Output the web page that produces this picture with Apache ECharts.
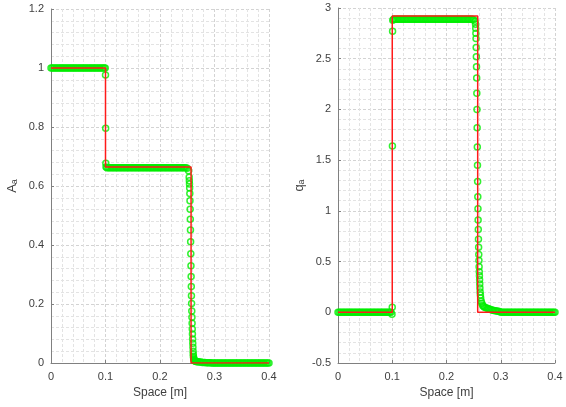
<!DOCTYPE html>
<html>
<head>
<meta charset="utf-8">
<script src="https://cdn.jsdelivr.net/npm/echarts@6/dist/echarts.min.js"></script>
<style>
  html, body { margin: 0; padding: 0; background: #ffffff; }
  #chart { width: 566px; height: 407px; }
</style>
</head>
<body>
<div id="chart"></div>
<script>
// Numerical solution: cell positions [m] with area A_a and discharge q_a
const spaceX = [
  0,0.0025,0.005,0.0075,0.01,0.0125,0.015,0.0175,0.02,0.0225,0.025,0.0275,0.03,0.0325,0.035,0.0375,0.04,0.0425,0.045,0.0475,
  0.05,0.0525,0.055,0.0575,0.06,0.0625,0.065,0.0675,0.07,0.0725,0.075,0.0775,0.08,0.0825,0.085,0.0875,0.09,0.0925,0.095,0.0975,
  0.0995,0.1,0.1003,0.1006,0.1009,
  0.1025,0.105,0.1075,0.11,0.1125,0.115,0.1175,0.12,0.1225,0.125,0.1275,0.13,0.1325,0.135,0.1375,0.14,0.1425,0.145,0.1475,0.15,
  0.1525,0.155,0.1575,0.16,0.1625,0.165,0.1675,0.17,0.1725,0.175,0.1775,0.18,0.1825,0.185,0.1875,0.19,0.1925,0.195,0.1975,0.2,
  0.2025,0.205,0.2075,0.21,0.2125,0.215,0.2175,0.22,0.2225,0.225,0.2275,0.23,0.2325,0.235,0.2375,0.24,0.2425,0.245,0.2475,0.25,0.2525,
  0.2535,0.2538,0.2541,0.2544,0.2547,0.255,0.2553,0.2556,0.2559,0.2562,0.2565,0.2568,0.2571,0.2574,0.2577,0.258,0.2583,0.2586,0.2589,0.2592,
  0.2595,0.2598,0.2601,0.2604,0.2607,0.261,0.2613,0.2616,0.262,0.2625,0.263,0.264,0.265,0.2665,0.268,0.27,
  0.2725,0.275,0.2775,0.28,0.2825,0.285,0.2875,0.29,0.2925,0.295,0.2975,
  0.3,0.3025,0.305,0.3075,0.31,0.3125,0.315,0.3175,0.32,0.3225,0.325,0.3275,0.33,0.3325,0.335,0.3375,0.34,0.3425,0.345,0.3475,
  0.35,0.3525,0.355,0.3575,0.36,0.3625,0.365,0.3675,0.37,0.3725,0.375,0.3775,0.38,0.3825,0.385,0.3875,0.39,0.3925,0.395,0.3975,0.4
];
const areaNumeric = [
  1,1,1,1,1,1,1,1,1,1,1,1,1,1,1,1,1,1,1,1,
  1,1,1,1,1,1,1,1,1,1,1,1,1,1,1,1,1,1,1,1,
  1,0.976,0.796,0.677,0.664,
  0.662,0.662,0.662,0.662,0.662,0.662,0.662,0.662,0.662,0.662,0.662,0.662,0.662,0.662,0.662,0.662,0.662,0.662,0.662,0.662,
  0.662,0.662,0.662,0.662,0.662,0.662,0.662,0.662,0.662,0.662,0.662,0.662,0.662,0.662,0.662,0.662,0.662,0.662,0.662,0.662,
  0.662,0.662,0.662,0.662,0.662,0.662,0.662,0.662,0.662,0.662,0.662,0.662,0.662,0.662,0.662,0.662,0.662,0.662,0.662,0.66,0.652,
  0.630,0.618,0.607,0.593,0.575,0.550,0.521,0.487,0.451,0.411,0.370,0.330,0.293,0.259,0.228,0.202,0.176,0.155,0.135,0.115,
  0.098,0.081,0.067,0.053,0.040,0.030,0.023,0.018,0.014,0.011,0.009,0.007,0.006,0.005,0.004,0.004,
  0.003,0.003,0.002,0.002,0.002,0.001,0.001,0.001,0.001,0,0,
  0,0,0,0,0,0,0,0,0,0,0,0,0,0,0,0,0,0,0,0,
  0,0,0,0,0,0,0,0,0,0,0,0,0,0,0,0,0,0,0,0,0
];
const flowNumeric = [
  0,0,0,0,0,0,0,0,0,0,0,0,0,0,0,0,0,0,0,0,
  0,0,0,0,0,0,0,0,0,0,0,0,0,0,0,0,0,0,0,0,
  -0.02,0.05,1.64,2.77,2.88,
  2.89,2.89,2.89,2.89,2.89,2.89,2.89,2.89,2.89,2.89,2.89,2.89,2.89,2.89,2.89,2.89,2.89,2.89,2.89,2.89,
  2.89,2.89,2.89,2.89,2.89,2.89,2.89,2.89,2.89,2.89,2.89,2.89,2.89,2.89,2.89,2.89,2.89,2.89,2.89,2.89,
  2.89,2.89,2.89,2.89,2.89,2.89,2.89,2.89,2.89,2.89,2.89,2.89,2.89,2.89,2.89,2.89,2.89,2.89,2.89,2.885,2.87,
  2.84,2.80,2.75,2.70,2.61,2.52,2.42,2.31,2.16,2.00,1.82,1.63,1.45,1.29,1.14,1.02,0.91,0.815,0.72,0.64,
  0.57,0.51,0.45,0.40,0.36,0.32,0.28,0.24,0.20,0.17,0.14,0.11,0.09,0.07,0.06,0.05,
  0.045,0.04,0.035,0.03,0.025,0.02,0.018,0.015,0.012,0.01,0.007,
  0,0,0,0,0,0,0,0,0,0,0,0,0,0,0,0,0,0,0,0,
  0,0,0,0,0,0,0,0,0,0,0,0,0,0,0,0,0,0,0,0,0
];

// Exact (analytical) solution, drawn as step profiles
const exactAreaX = [0, 0.1, 0.1, 0.257, 0.257, 0.4];
const exactArea  = [1, 1, 0.664, 0.664, 0, 0];
const exactFlowX = [0, 0.1, 0.1, 0.2575, 0.2575, 0.4];
const exactFlow  = [0, 0, 2.92, 2.92, 0, 0];

// Axis ranges and tick spacing
const spaceTicks = [0, 0.1, 0.2, 0.3, 0.4];
const areaTicks  = [0, 0.2, 0.4, 0.6, 0.8, 1, 1.2];
const flowTicks  = [-0.5, 0, 0.5, 1, 1.5, 2, 2.5, 3];

const FONT = "'Liberation Sans', Arial, Helvetica, sans-serif";
const TEXT = '#404040';
const AXIS = '#808080';

function pairs(xs, ys) { return xs.map((x, i) => [x, ys[i]]); }

function gridLines() {
  return {
    splitLine: { show: true, lineStyle: { color: '#d3d3d3', width: 1, type: [3, 2] } },
    minorTick: { show: false, splitNumber: 5 },
    minorSplitLine: { show: true, lineStyle: { color: '#e3e3e3', width: 1, type: [3, 2] } }
  };
}

function xAxisFor(gridIndex) {
  return Object.assign({
    type: 'value', gridIndex,
    min: spaceTicks[0], max: spaceTicks[spaceTicks.length - 1],
    interval: spaceTicks[1] - spaceTicks[0],
    name: 'Space [m]', nameLocation: 'middle', nameGap: 24,
    nameTextStyle: { fontFamily: FONT, fontSize: 12, color: TEXT },
    axisLine: { show: true, onZero: false, lineStyle: { color: AXIS, width: 1 } },
    axisTick: { show: true, inside: true, length: 3, lineStyle: { color: AXIS } },
    axisLabel: { fontFamily: FONT, fontSize: 11, color: TEXT, margin: 8 }
  }, gridLines());
}

function yAxisFor(gridIndex, ticks, sym) {
  return Object.assign({
    type: 'value', gridIndex,
    min: ticks[0], max: ticks[ticks.length - 1],
    interval: ticks[1] - ticks[0],
    name: '{m|' + sym + '}{s|a}', nameLocation: 'middle', nameGap: 32, nameRotate: 90,
    nameTextStyle: {
      fontFamily: FONT, fontSize: 13, color: TEXT,
      rich: {
        m: { fontFamily: FONT, fontSize: 13, color: TEXT, lineHeight: 18, verticalAlign: 'bottom' },
        s: { fontFamily: FONT, fontSize: 9, color: TEXT, lineHeight: 18, verticalAlign: 'bottom', padding: [7, 0, 0, 0] }
      }
    },
    axisLine: { show: true, onZero: false, lineStyle: { color: AXIS, width: 1 } },
    axisTick: { show: true, inside: true, length: 3, lineStyle: { color: AXIS } },
    axisLabel: { fontFamily: FONT, fontSize: 11, color: TEXT, margin: 7 }
  }, gridLines());
}

const numericStyle = {
  type: 'scatter', symbol: 'circle', symbolSize: 6,
  itemStyle: { color: 'rgba(0,0,0,0)', borderColor: '#00ee00', borderWidth: 1.5 },
  z: 2, silent: true
};
const exactStyle = {
  type: 'line', showSymbol: false, symbol: 'none',
  lineStyle: { color: '#ff1a1a', width: 1.5 }, z: 3, silent: true
};

const chart = echarts.init(document.getElementById('chart'), null, { renderer: 'canvas' });
chart.setOption({
  animation: false,
  backgroundColor: '#ffffff',
  textStyle: { fontFamily: FONT },
  grid: [
    { left: 51, top: 9, width: 218, height: 354 },
    { left: 338, top: 8, width: 217, height: 355 }
  ],
  xAxis: [xAxisFor(0), xAxisFor(1)],
  yAxis: [yAxisFor(0, areaTicks, 'A'), yAxisFor(1, flowTicks, 'q')],
  series: [
    Object.assign({ xAxisIndex: 0, yAxisIndex: 0, data: pairs(spaceX, areaNumeric) }, numericStyle),
    Object.assign({ xAxisIndex: 0, yAxisIndex: 0, data: pairs(exactAreaX, exactArea) }, exactStyle),
    Object.assign({ xAxisIndex: 1, yAxisIndex: 1, data: pairs(spaceX, flowNumeric) }, numericStyle),
    Object.assign({ xAxisIndex: 1, yAxisIndex: 1, data: pairs(exactFlowX, exactFlow) }, exactStyle)
  ]
});
</script>
</body>
</html>
